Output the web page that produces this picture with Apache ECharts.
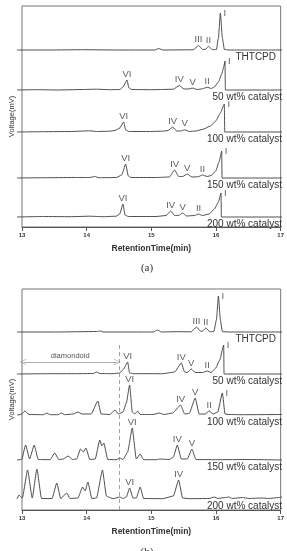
<!DOCTYPE html>
<html>
<head>
<meta charset="utf-8">
<script src="https://cdn.jsdelivr.net/npm/echarts@6/dist/echarts.min.js"></script>
<style>
  html, body { margin: 0; padding: 0; background: #fff; }
  #chart { width: 287px; height: 551px; }
</style>
</head>
<body>
<div id="chart"></div>
<script>
// retention time axis (min)
const timeRange = [13, 17];
const tickStep = 1;

const traceNames = ['THTCPD', '50 wt% catalyst', '100 wt% catalyst', '150 wt% catalyst', '200 wt% catalyst'];

// panel (a) chromatograms: [time, signal]
const aTHTCPD = [[13,0],[13.5,0],[14.0,0.3],[14.5,0],[15.08,0],[15.14,1.5],[15.2,0],[15.66,0.2],[15.74,4.5],[15.8,0.6],[15.84,0.6],[15.89,3.5],[15.95,0.3],[16.01,0.5],[16.04,12],[16.07,37],[16.1,12],[16.13,0.5],[16.2,0],[17,0]];
const a50 = [[13,0],[13.3,0.3],[13.6,0],[14.0,0.5],[14.2,0.8],[14.4,0.3],[14.55,0.5],[14.6,3],[14.66,10],[14.69,2],[14.73,0.5],[15.0,0.3],[15.2,0.5],[15.36,0.8],[15.45,4.5],[15.52,1],[15.58,1],[15.65,1.8],[15.72,0.5],[15.8,1.2],[15.87,2.8],[15.93,1.5],[15.98,3],[16.04,8],[16.09,16],[16.12,23],[16.14,29],[16.145,0],[17,0]];
const a100 = [[13,0],[13.4,0.3],[13.8,0.5],[14.1,1.2],[14.2,0.5],[14.4,0.8],[14.48,1.5],[14.55,4],[14.61,10],[14.64,2],[14.69,0.5],[15.0,0.5],[15.2,0.8],[15.28,1.5],[15.35,5],[15.41,1],[15.47,1],[15.53,2.2],[15.6,0.5],[15.7,1],[15.82,3],[15.92,6],[16.0,11],[16.07,19],[16.13,28],[16.135,0],[17,0]];
const a150 = [[13,0],[13.5,0.3],[13.9,0.5],[14.1,0.5],[14.17,1.5],[14.24,0.3],[14.5,0.5],[14.58,3],[14.64,14],[14.68,2],[14.72,0.5],[15.1,0.5],[15.3,1],[15.38,8],[15.44,1.5],[15.5,1.5],[15.57,4],[15.64,1],[15.73,1.2],[15.8,3],[15.87,1.5],[15.93,2.5],[16.0,7],[16.05,16],[16.09,27],[16.095,0],[17,0]];
const a200 = [[13,0],[13.4,0.5],[13.8,0.3],[14.1,0.8],[14.3,0.3],[14.5,0.8],[14.55,3],[14.6,13],[14.63,2],[14.68,0.5],[15.1,0.5],[15.25,1.5],[15.32,6],[15.38,1.5],[15.44,1.5],[15.5,4],[15.56,1],[15.68,1.5],[15.74,3],[15.8,1.5],[15.9,3],[15.98,8],[16.04,15],[16.08,24],[16.085,0],[17,0]];

// panel (b) chromatograms: [time, signal]
const bTHTCPD = [[13,0],[13.6,0],[14.2,0.5],[14.26,1],[14.3,0],[15.06,0],[15.12,2],[15.18,0],[15.4,0.3],[15.63,0.2],[15.71,5],[15.77,0.8],[15.8,0.8],[15.85,4],[15.91,0.3],[15.97,0.3],[16.01,12],[16.04,36],[16.07,12],[16.1,0.3],[16.2,0],[17,0]];
const b50 = [[13,0],[13.5,0.3],[13.9,0.3],[14.15,0.5],[14.2,2],[14.25,0.5],[14.45,0.3],[14.55,1],[14.61,5],[14.67,12],[14.7,1],[14.75,0.3],[15.2,0.3],[15.38,2],[15.48,11],[15.53,2],[15.57,1.5],[15.63,5],[15.69,1.5],[15.8,1.5],[15.87,3],[15.93,1.5],[16.0,6],[16.06,14],[16.12,29],[16.125,0],[17,0]];
const b100 = [[13,0],[13.06,0.5],[13.12,4],[13.18,0.5],[13.4,0.3],[13.45,2],[13.5,0.3],[13.62,0.3],[13.67,2],[13.72,0.3],[13.85,1],[13.92,3],[13.98,1],[14.12,1],[14.22,14],[14.27,1],[14.4,0.5],[14.48,5],[14.53,1],[14.6,3],[14.65,12],[14.7,30],[14.74,3],[14.78,1],[14.82,4],[14.86,0.5],[15.05,0.5],[15.15,2],[15.22,0.5],[15.35,2],[15.47,10],[15.53,1],[15.6,1.5],[15.69,17],[15.75,1],[15.84,1],[15.9,4],[15.96,1],[16.03,3],[16.1,22],[16.14,1],[16.2,0.5],[16.4,0.3],[17,0.5]];
const b150 = [[13,0],[13.07,0.5],[13.13,15],[13.19,1],[13.26,15],[13.32,0.5],[13.5,0.3],[13.57,7],[13.63,0.5],[13.7,1],[13.77,4],[13.84,0.5],[13.9,1],[13.96,11],[14.0,8],[14.04,12],[14.1,0.5],[14.18,1],[14.25,20],[14.28,14],[14.31,17],[14.37,0.5],[14.5,0.3],[14.55,2],[14.6,0.5],[14.67,8],[14.74,32],[14.8,1],[14.86,6],[14.91,0.3],[15.1,0.3],[15.15,1],[15.3,0.5],[15.36,3],[15.42,15],[15.48,1],[15.57,1],[15.64,11],[15.7,0.5],[16.0,0.3],[16.5,0.5],[17,0]];
const b200 = [[13,0],[13.03,4],[13.08,1],[13.16,29],[13.23,1],[13.3,30],[13.37,0.5],[13.53,0.5],[13.6,16],[13.66,0.5],[13.75,6],[13.8,0.5],[13.92,1],[13.99,12],[14.03,8],[14.07,17],[14.13,0.5],[14.2,1],[14.29,29],[14.35,3],[14.38,2],[14.45,0.3],[14.55,2],[14.6,0.5],[14.65,2],[14.7,11],[14.75,1],[14.8,1],[14.86,12],[14.91,0.5],[15.2,0.3],[15.36,3],[15.44,19],[15.5,1],[15.6,0.3],[15.9,0.5],[15.98,2],[16.03,0.5],[16.15,1.5],[16.2,2],[16.25,0.5],[16.4,1.5],[16.5,0.5],[16.7,1],[16.8,0.5],[16.95,1.5],[17,2]];

// peak labels: [name, time, signal]
const aPeaks = [
  [['III',15.74,4.5],['II',15.89,3.5],['I',16.07,37]],
  [['VI',14.66,10],['IV',15.45,4.5],['V',15.65,1.8],['II',15.87,2.8],['I',16.14,29]],
  [['VI',14.61,10],['IV',15.35,5],['V',15.53,2.2],['I',16.13,28]],
  [['VI',14.64,14],['IV',15.38,8],['V',15.57,4],['II',15.8,3],['I',16.09,27]],
  [['VI',14.6,13],['IV',15.32,6],['V',15.5,4],['II',15.74,3],['I',16.08,24]]
];
const bPeaks = [
  [['III',15.71,5],['II',15.85,4],['I',16.04,36]],
  [['VI',14.67,12],['IV',15.48,11],['V',15.63,5],['II',15.87,3],['I',16.12,29]],
  [['VI',14.7,30],['IV',15.47,10],['V',15.69,17],['II',15.9,4],['I',16.1,22]],
  [['VI',14.74,32],['IV',15.42,15],['V',15.64,11]],
  [['VI',14.7,11],['IV',15.44,19]]
];

// diamondoid region boundary and arrow (b)
const diamondoidEnd = 14.5;
const diamondoidStart = 13.02;

const panels = [
  { top: 6, caption: '(a)', traces: [aTHTCPD, a50, a100, a150, a200], peaks: aPeaks, baselines: [50, 90, 132, 178, 217] },
  { top: 289, caption: '(b)', traces: [bTHTCPD, b50, b100, b150, b200], peaks: bPeaks, baselines: [332, 374, 415, 460, 499] }
];

const W = 287;
const plotLeft = 17, plotRight = 5, panelH = 221;
const textColor = '#333';
const lineColor = '#3a3a3a';

const option = { animation: false, backgroundColor: '#fff', grid: [], xAxis: [], yAxis: [], series: [], graphic: [] };

function addGrid(grid, xa, ya) {
  option.grid.push(grid);
  const i = option.grid.length - 1;
  option.xAxis.push(Object.assign({ gridIndex: i, type: 'value', min: timeRange[0], max: timeRange[1], interval: tickStep }, xa));
  option.yAxis.push(Object.assign({ gridIndex: i, type: 'value' }, ya));
  return i;
}

panels.forEach((p, pi) => {
  // frame with the time axis
  const fi = addGrid(
    { left: plotLeft, right: plotRight, top: p.top, height: panelH, show: true, borderColor: '#777', borderWidth: 1 },
    {
      axisLine: { lineStyle: { color: '#555', width: 1 } },
      axisTick: { length: 4, lineStyle: { color: '#555' } },
      axisLabel: { fontSize: 6, fontWeight: 'bold', color: textColor, margin: 5, fontFamily: 'Liberation Sans' },
      splitLine: { show: false },
      name: 'RetentionTime(min)', nameLocation: 'middle', nameGap: 17,
      nameTextStyle: { fontSize: 8.5, fontWeight: 'bold', color: textColor, fontFamily: 'Liberation Sans' }
    },
    {
      min: 0, max: panelH,
      axisLine: { show: false }, axisTick: { show: false }, axisLabel: { show: false }, splitLine: { show: false },
      name: 'Voltage(mV)', nameLocation: 'middle', nameGap: 6,
      nameTextStyle: { fontSize: 7.5, color: textColor, fontFamily: 'Liberation Sans' }
    }
  );

  if (pi === 1) {
    const bottom = p.top + panelH;
    option.series.push({
      type: 'line', xAxisIndex: fi, yAxisIndex: fi, data: [], silent: true,
      markLine: {
        silent: true, animation: false,
        data: [
          [{ coord: [diamondoidEnd, 0], symbol: 'none' }, { coord: [diamondoidEnd, bottom - 345], symbol: 'none',
            lineStyle: { type: [4, 3], color: '#888', width: 0.8 } }],
          [{ coord: [diamondoidStart, bottom - 362], symbol: 'path://M0,0L10,10L9,11L0,2L-9,11L-10,10Z' },
           { coord: [diamondoidEnd - 0.03, bottom - 362], symbol: 'path://M0,0L10,10L9,11L0,2L-9,11L-10,10Z',
             lineStyle: { type: 'solid', color: '#999', width: 0.8 },
             label: { show: true, position: 'middle', formatter: 'diamondoid', fontSize: 7.5, color: '#555', distance: 2, fontFamily: 'Liberation Sans' } }]
        ],
        symbolSize: [6, 7],
        lineStyle: { type: [4, 3], color: '#888', width: 0.8 },
        label: { show: false }
      }
    });
  }

  p.traces.forEach((tr, ti) => {
    const base = p.baselines[ti];
    const gi = addGrid(
      { left: plotLeft, right: plotRight, top: base - 45, height: 48 },
      { show: false },
      { show: false, min: -3, max: 45 }
    );
    option.series.push({
      type: 'line', xAxisIndex: gi, yAxisIndex: gi, data: tr, showSymbol: false,
      smooth: 0.15, smoothMonotone: 'x',
      lineStyle: { color: lineColor, width: 0.9 }, silent: true
    });
    option.series.push({
      type: 'scatter', xAxisIndex: gi, yAxisIndex: gi, symbolSize: 0.1, silent: true,
      itemStyle: { color: 'transparent' },
      data: p.peaks[ti].map(pk => ({
        value: [pk[1], pk[2], pk[0]],
        label: pk[0] === 'I' ? { position: 'right', distance: 3 } : { position: 'top', distance: 1 }
      })),
      label: { show: true, formatter: q => q.value[2], fontSize: 9.5, color: textColor, fontFamily: 'Liberation Sans' }
    });
    option.graphic.push({
      type: 'text', silent: true,
      style: {
        text: traceNames[ti], x: ti === 0 ? 276 : 282, y: base + 7,
        textAlign: 'right', textVerticalAlign: 'middle',
        font: '10px "Liberation Sans"', fill: textColor
      }
    });
  });

  option.graphic.push({
    type: 'text', silent: true,
    style: {
      text: p.caption, x: 147, y: pi === 0 ? 268 : 552,
      textAlign: 'center', textVerticalAlign: 'middle',
      font: '11px "Liberation Serif"', fill: textColor
    }
  });
});

const chart = echarts.init(document.getElementById('chart'), null, { renderer: 'canvas' });
chart.setOption(option);
</script>
</body>
</html>
